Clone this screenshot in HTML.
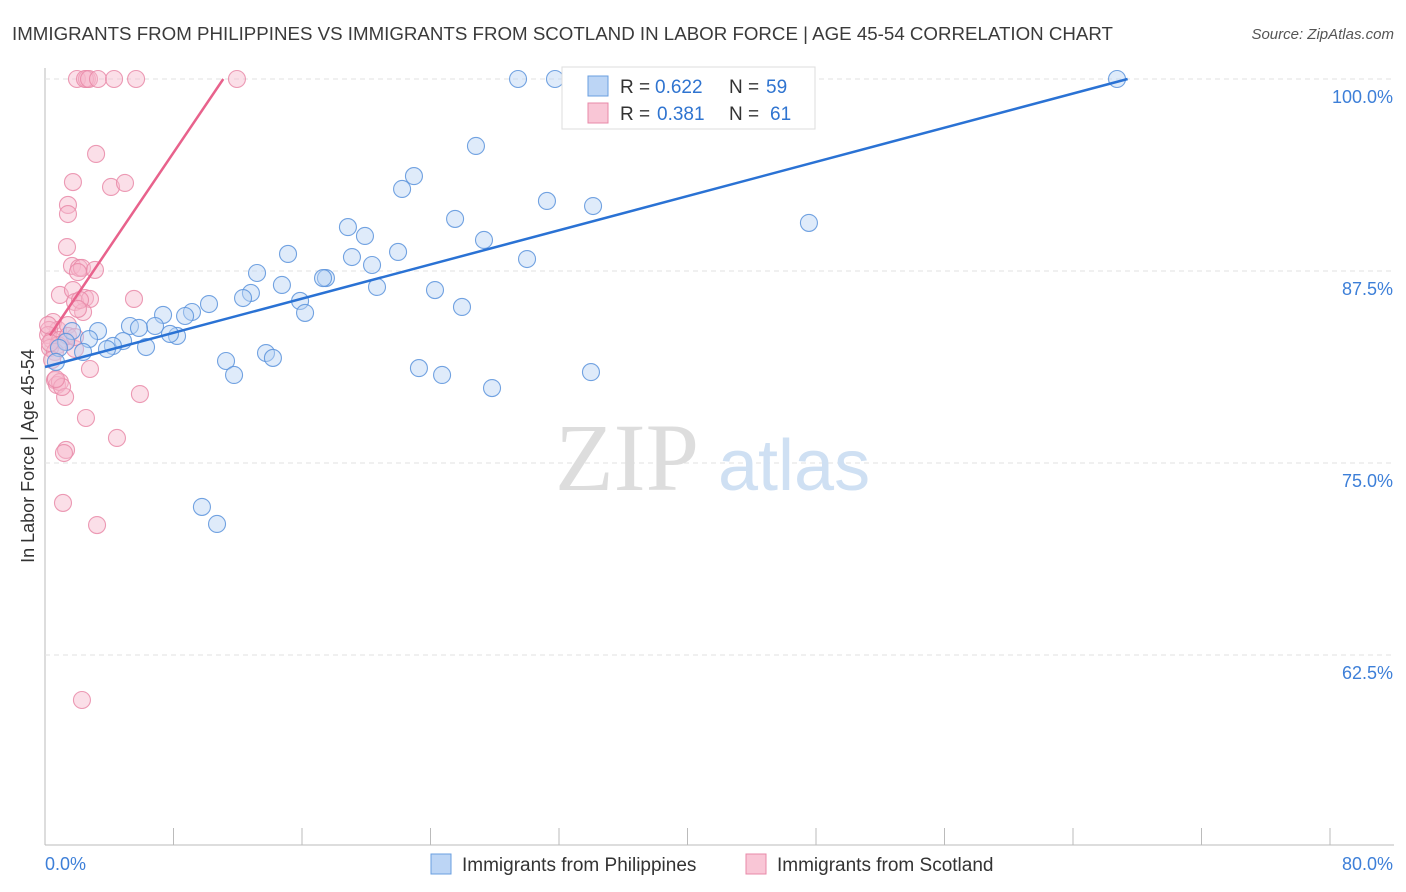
<!DOCTYPE html>
<html><head><meta charset="utf-8"><style>
body{margin:0;background:#fff;font-family:"Liberation Sans",sans-serif;}
#c{position:absolute;left:0;top:0;}
</style></head><body>
<svg id="c" width="1406" height="892">
<text x="12" y="40" font-size="18" fill="#3a3a3a" textLength="1101" lengthAdjust="spacingAndGlyphs">IMMIGRANTS FROM PHILIPPINES VS IMMIGRANTS FROM SCOTLAND IN LABOR FORCE | AGE 45-54 CORRELATION CHART</text>
<text x="1394" y="39" font-size="15" fill="#555" text-anchor="end" font-style="italic">Source: ZipAtlas.com</text>
<g id="grid"></g>
<text x="555" y="490" font-size="96" fill="#ddd" font-family="Liberation Serif,serif">ZIP</text>
<text x="718" y="490" font-size="72" fill="#cfe0f3">atlas</text>
<g id="pts"></g>
<text transform="translate(34,456) rotate(-90)" font-size="18" fill="#333" text-anchor="middle">In Labor Force | Age 45-54</text>
<text x="45" y="870" font-size="18" fill="#3d7fd8">0.0%</text>
<text x="1393" y="870" font-size="18" fill="#3d7fd8" text-anchor="end">80.0%</text>
<g>
<rect x="562" y="67" width="253" height="62" fill="#fff" stroke="#ddd"/>
<rect x="588" y="76" width="20" height="20" fill="#bcd5f5" stroke="#6a9fe0"/>
<rect x="588" y="103" width="20" height="20" fill="#f9c6d6" stroke="#e889a8"/>
<text x="620" y="93" font-size="19" fill="#333">R =</text>
<text x="655" y="93" font-size="19" fill="#2f74d0">0.622</text>
<text x="729" y="93" font-size="19" fill="#333">N =</text>
<text x="766" y="93" font-size="19" fill="#2f74d0">59</text>
<text x="620" y="120" font-size="19" fill="#333">R =</text>
<text x="657" y="120" font-size="19" fill="#2f74d0">0.381</text>
<text x="729" y="120" font-size="19" fill="#333">N =</text>
<text x="770" y="120" font-size="19" fill="#2f74d0">61</text>
</g>
<g>
<rect x="431" y="854" width="20" height="20" fill="#bcd5f5" stroke="#6a9fe0"/>
<text x="462" y="871" font-size="19" fill="#333">Immigrants from Philippines</text>
<rect x="746" y="854" width="20" height="20" fill="#f9c6d6" stroke="#e889a8"/>
<text x="777" y="871" font-size="19" fill="#333">Immigrants from Scotland</text>
</g>
</svg>
<script>
const xTicks=[0,8,16,24,32,40,48,56,64,72,80];
const yTicks=[100,87.5,75,62.5];
const yTickLabels=["100.0%","87.5%","75.0%","62.5%"];
const bluePx=[[518,79],[555,79],[1117,79],[476,146],[414,176],[402,189],[547,201],[593,206],[455,219],[348,227],[365,236],[484,240],[809,223],[288,254],[398,252],[352,257],[372,265],[527,259],[257,273],[326,278],[323,278],[282,285],[377,287],[435,290],[251,293],[243,298],[209,304],[300,301],[462,307],[305,313],[192,312],[185,316],[163,315],[155,326],[130,326],[139,328],[98,331],[72,331],[177,336],[170,334],[89,339],[66,342],[123,341],[113,346],[146,347],[107,349],[59,348],[83,352],[56,362],[226,361],[266,353],[273,358],[419,368],[442,375],[234,375],[591,372],[492,388],[202,507],[217,524]];
const pinkPx=[[77,79],[87,79],[85,79],[89,79],[98,79],[114,79],[136,79],[237,79],[96,154],[73,182],[111,187],[125,183],[68,205],[68,214],[67,247],[72,266],[79,268],[82,268],[95,270],[78,272],[60,295],[73,290],[85,298],[75,302],[90,299],[134,299],[83,312],[53,322],[58,330],[68,325],[49,330],[48,335],[52,340],[60,340],[65,342],[58,345],[50,348],[55,352],[75,349],[90,369],[55,380],[57,385],[60,382],[65,397],[140,394],[86,418],[117,438],[66,450],[64,453],[63,503],[97,525],[82,700],[48,325],[50,343],[52,360],[62,387],[68,336],[75,337],[80,300],[78,309],[56,379]];
const blueX=bluePx.map(p=>+((p[0]-45)/1285*80).toFixed(2));
const blueY=bluePx.map(p=>+(100-(p[1]-79)/15.36).toFixed(2));
const pinkX=pinkPx.map(p=>+((p[0]-45)/1285*80).toFixed(2));
const pinkY=pinkPx.map(p=>+(100-(p[1]-79)/15.36).toFixed(2));
const blueLine=[[0,81.25],[67.4,100]];
const pinkLine=[[0.3,83.3],[11.1,100]];
const sx=v=>45+v/80*1285, sy=v=>79+(100-v)*15.36;
const NS="http://www.w3.org/2000/svg";
const g=document.getElementById('grid'), P=document.getElementById('pts');
function mk(t,a,par){const e=document.createElementNS(NS,t);for(const k in a)e.setAttribute(k,a[k]);par.appendChild(e);return e;}
let ax=mk('line',{x1:45,y1:68,x2:45,y2:845,stroke:'#bbb'},g);


let bx=mk('line',{x1:45,y1:845,x2:1394,y2:845,stroke:'#bbb'},g);


xTicks.forEach(t=>{const e=mk('line',{x1:sx(t),y1:828,x2:sx(t),y2:845,stroke:'#bbb'},g);

});
yTicks.forEach((t,i)=>{const e=mk('line',{x1:45,y1:sy(t),x2:1394,y2:sy(t),stroke:'#e2e2e2','stroke-dasharray':'5,4'},g);


const l=mk('text',{x:1393,y:sy(t)+24,'font-size':18,fill:'#3d7fd8','text-anchor':'end'},g);l.textContent=yTickLabels[i];

});
function series(X,Y,fill,stroke,name){X.forEach((x,i)=>{const c=mk('circle',{cx:sx(x),cy:sy(Y[i]),r:8.5,fill:fill,'fill-opacity':0.45,stroke:stroke,'stroke-width':1.1,'stroke-opacity':0.85},P);

});}
series(pinkX,pinkY,'#f7b9cc','#e98aa8','scotland-point');
series(blueX,blueY,'#b8d3f5','#5b93dc','philippines-point');
const bl=mk('line',{x1:sx(blueLine[0][0]),y1:sy(blueLine[0][1]),x2:sx(blueLine[1][0]),y2:sy(blueLine[1][1]),stroke:'#2a72d4','stroke-width':2.5},P);


const pl=mk('line',{x1:sx(pinkLine[0][0]),y1:sy(pinkLine[0][1]),x2:sx(pinkLine[1][0]),y2:sy(pinkLine[1][1]),stroke:'#e8628c','stroke-width':2.5},P);


</script>
</body></html>
